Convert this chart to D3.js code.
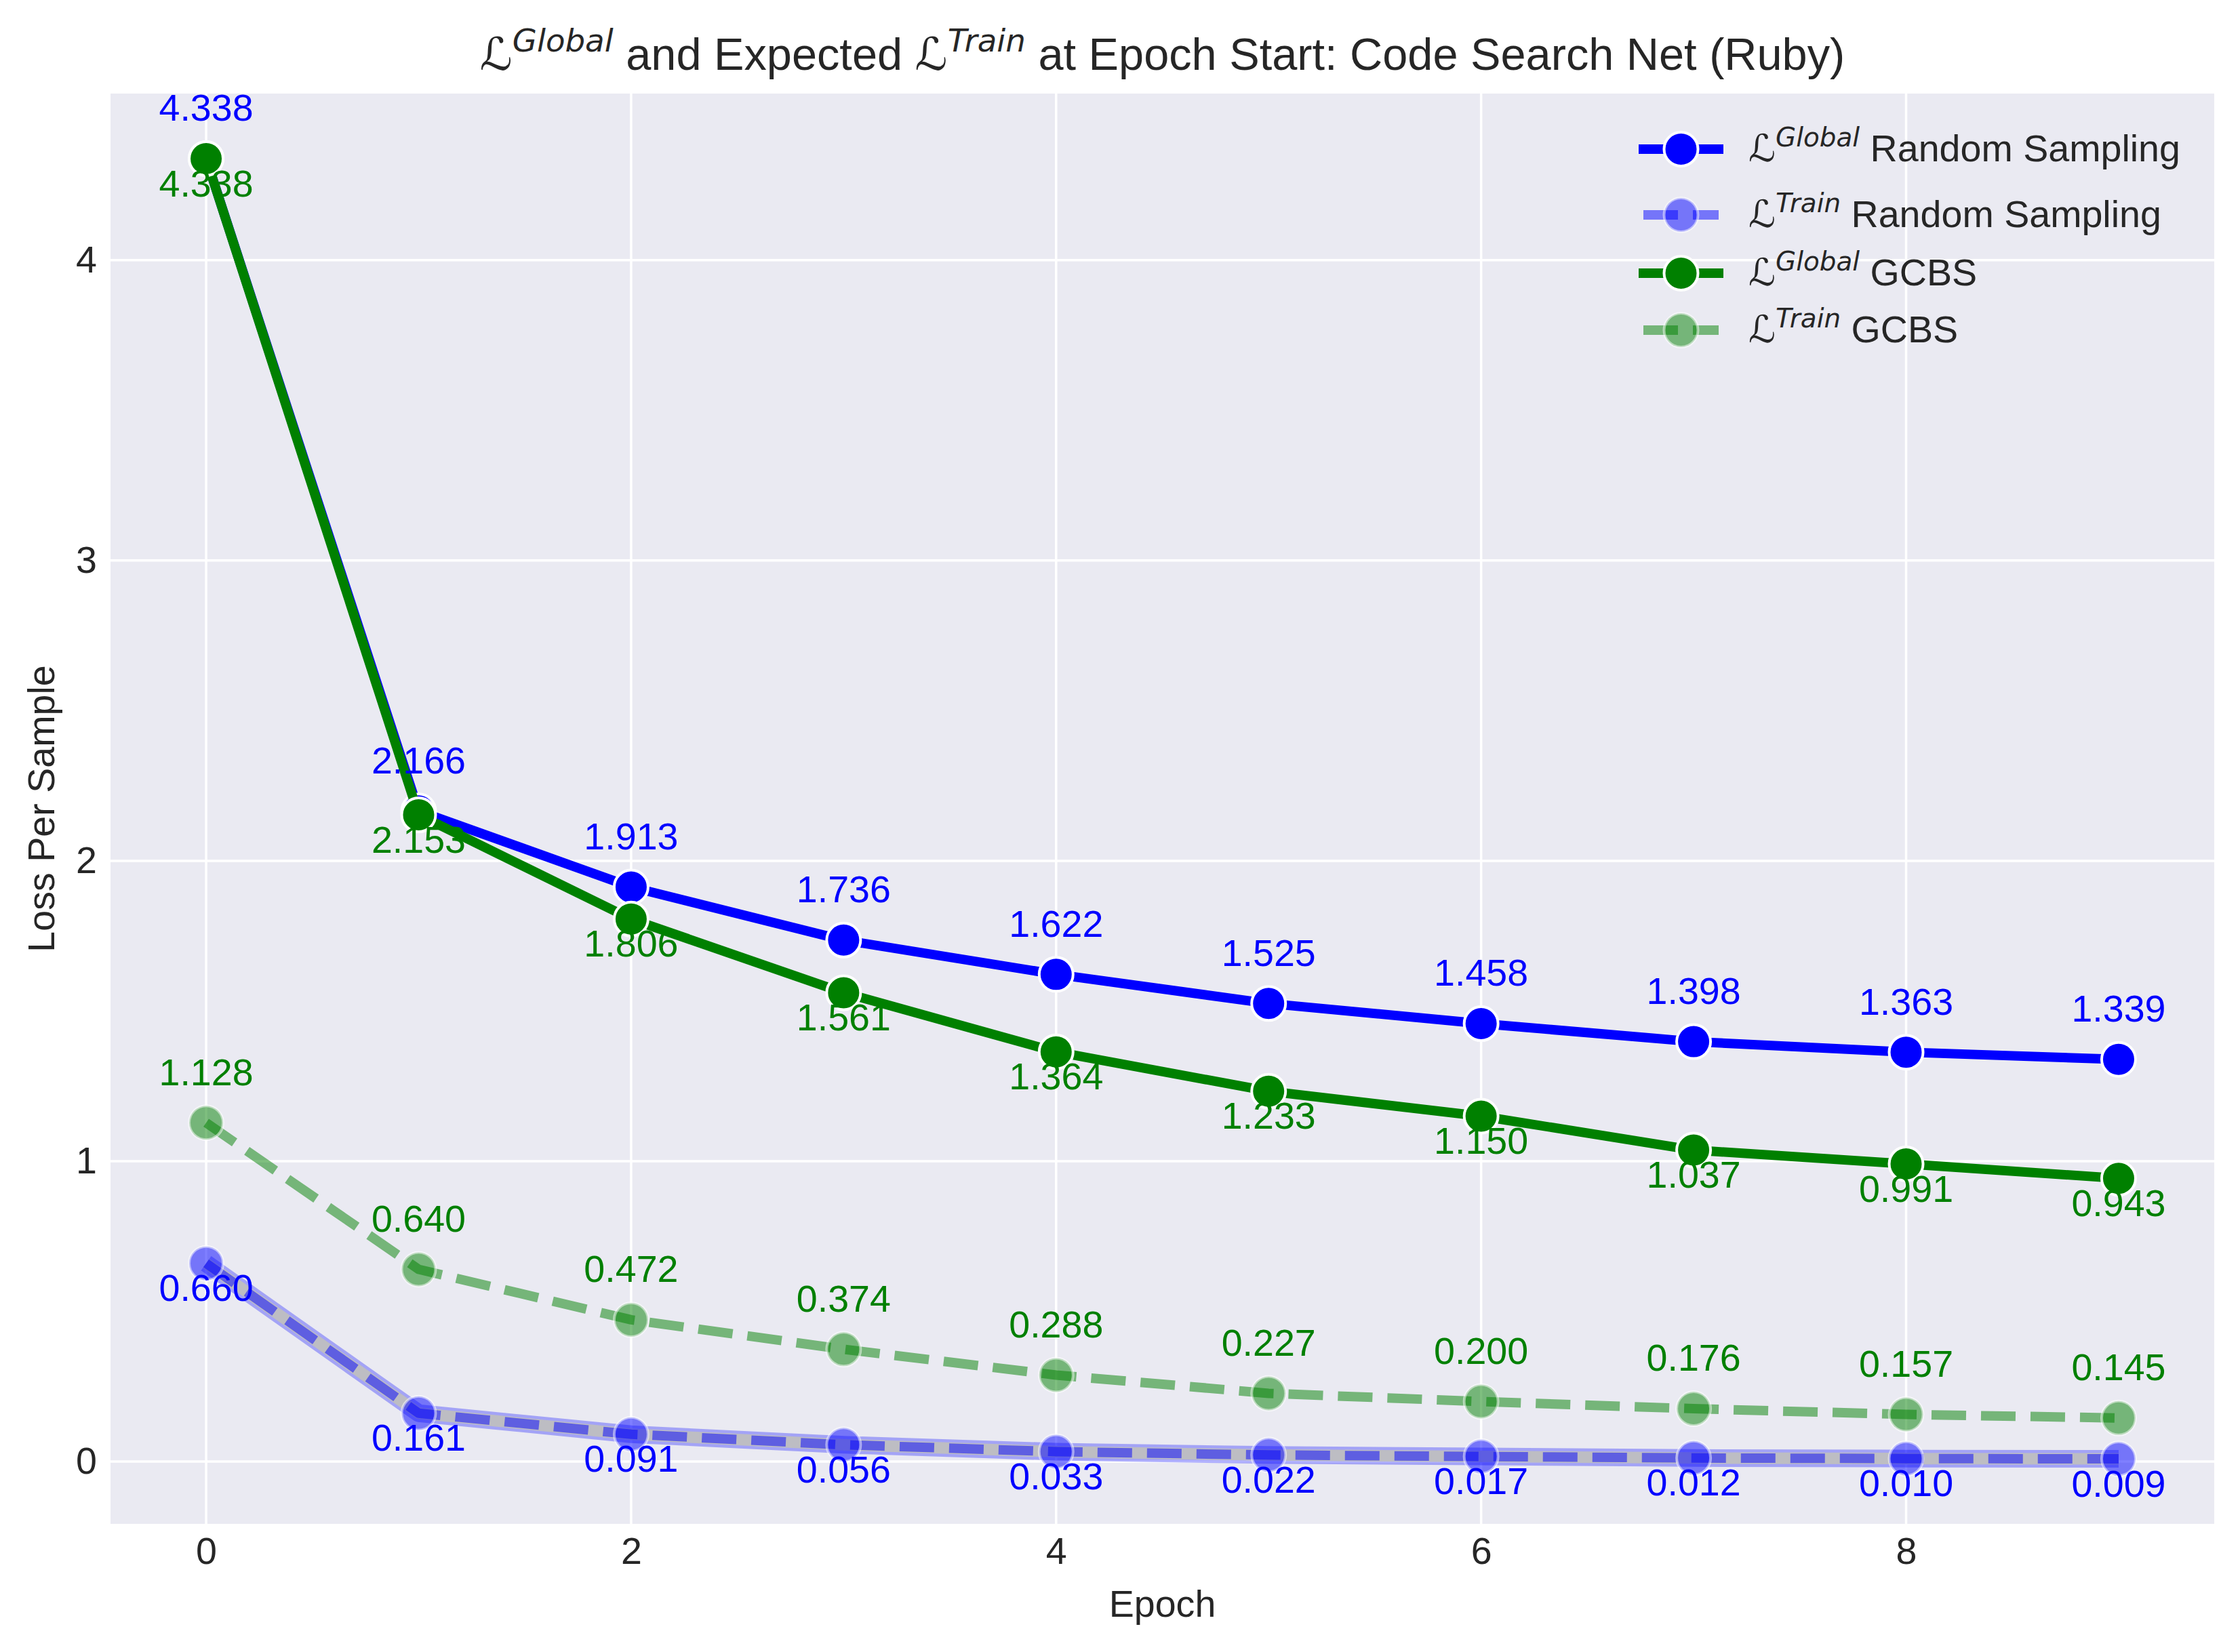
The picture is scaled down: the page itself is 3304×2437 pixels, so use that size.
<!DOCTYPE html>
<html>
<head>
<meta charset="utf-8">
<script src="https://d3js.org/d3.v7.min.js"></script>
<style>
  body { margin: 0; background: #ffffff; }
  text { font-family: "Liberation Sans", Arial, sans-serif; white-space: pre; }
</style>
</head>
<body>
<div id="chart"></div>
<script>
// data
var epochs = [0, 1, 2, 3, 4, 5, 6, 7, 8, 9];
var globalRS = [4.338, 2.166, 1.913, 1.736, 1.622, 1.525, 1.458, 1.398, 1.363, 1.339];
var trainRS = [0.660, 0.161, 0.091, 0.056, 0.033, 0.022, 0.017, 0.012, 0.010, 0.009];
var globalGCBS = [4.338, 2.153, 1.806, 1.561, 1.364, 1.233, 1.150, 1.037, 0.991, 0.943];
var trainGCBS = [1.128, 0.640, 0.472, 0.374, 0.288, 0.227, 0.200, 0.176, 0.157, 0.145];
var xTicks = [0, 2, 4, 6, 8];
var yTicks = [0, 1, 2, 3, 4];

var W = 3304, H = 2437;
var pLeft = 163, pRight = 3266, pTop = 138, pBottom = 2248;
var fs = 55.6;          // 10pt
var ink = '#262626';

var all = globalRS.concat(trainRS, globalGCBS, trainGCBS);
var lo = d3.min(all), hi = d3.max(all), pad = (hi - lo) * 0.05;

var x = d3.scaleLinear().domain([-0.45, 9.45]).range([pLeft, pRight]);
var y = d3.scaleLinear().domain([lo - pad, hi + pad]).range([pBottom, pTop]);

var svg = d3.select('#chart').append('svg').attr('width', W).attr('height', H);
svg.append('rect').attr('width', W).attr('height', H).attr('fill', '#ffffff');
svg.append('rect').attr('x', pLeft).attr('y', pTop)
  .attr('width', pRight - pLeft).attr('height', pBottom - pTop).attr('fill', '#eaeaf2');

// grid
svg.append('g').selectAll('line').data(xTicks).enter().append('line')
  .attr('x1', function(d){ return x(d); }).attr('x2', function(d){ return x(d); })
  .attr('y1', pTop).attr('y2', pBottom)
  .attr('stroke', '#ffffff').attr('stroke-width', 3.5);
svg.append('g').selectAll('line').data(yTicks).enter().append('line')
  .attr('y1', function(d){ return y(d); }).attr('y2', function(d){ return y(d); })
  .attr('x1', pLeft).attr('x2', pRight)
  .attr('stroke', '#ffffff').attr('stroke-width', 3.5);

// axes
var xAxis = svg.append('g').attr('transform', 'translate(0,' + pBottom + ')')
  .call(d3.axisBottom(x).tickValues(xTicks).tickSize(0).tickPadding(20).tickFormat(d3.format('d')));
var yAxis = svg.append('g').attr('transform', 'translate(' + pLeft + ',0)')
  .call(d3.axisLeft(y).tickValues(yTicks).tickSize(0).tickPadding(20).tickFormat(d3.format('d')));
[xAxis, yAxis].forEach(function(a){
  a.select('.domain').remove();
  a.attr('font-family', '"Liberation Sans", Arial, sans-serif').attr('font-size', fs);
  a.selectAll('text').attr('fill', ink);
});

// series
var series = [
  { vals: globalRS, color: '#0000ff', dash: null, alpha: 1, label: 'up', sup: 'Global', name: ' Random Sampling' },
  { vals: trainRS, color: '#0000ff', dash: '51,22', alpha: 0.5, label: 'down', sup: 'Train', name: ' Random Sampling', halo: true },
  { vals: globalGCBS, color: '#008000', dash: null, alpha: 1, label: 'down', sup: 'Global', name: ' GCBS' },
  { vals: trainGCBS, color: '#008000', dash: '51,22', alpha: 0.5, label: 'up', sup: 'Train', name: ' GCBS' }
];

var line = d3.line()
  .x(function(d, i){ return x(epochs[i]); })
  .y(function(d){ return y(d); });

var lw = 14, mr = 25;

series.forEach(function(s){
  var g = svg.append('g');
  if (s.halo) {
    g.append('path').attr('d', line(s.vals)).attr('fill', 'none')
      .attr('stroke', s.color).attr('stroke-opacity', 0.3).attr('stroke-width', 26)
      .attr('stroke-linejoin', 'round');
    g.append('path').attr('d', line(s.vals)).attr('fill', 'none')
      .attr('stroke', '#bdbdc3').attr('stroke-width', 17)
      .attr('stroke-linejoin', 'round');
  }
  var p = g.append('path').attr('d', line(s.vals)).attr('fill', 'none')
    .attr('stroke', s.color).attr('stroke-opacity', s.alpha).attr('stroke-width', lw)
    .attr('stroke-linejoin', 'round');
  if (s.dash) p.attr('stroke-dasharray', s.dash).attr('stroke-linecap', 'butt');
  else p.attr('stroke-linecap', 'square');
  g.selectAll('circle').data(s.vals).enter().append('circle')
    .attr('cx', function(d, i){ return x(epochs[i]); })
    .attr('cy', function(d){ return y(d); })
    .attr('r', mr)
    .attr('fill', s.color).attr('fill-opacity', s.alpha)
    .attr('stroke', '#ffffff').attr('stroke-opacity', s.alpha).attr('stroke-width', 4);
});

// value labels
series.forEach(function(s){
  svg.append('g').selectAll('text').data(s.vals).enter().append('text')
    .attr('x', function(d, i){ return x(epochs[i]); })
    .attr('y', function(d){ return s.label === 'up' ? y(d) - fs : y(d) + fs; })
    .attr('text-anchor', 'middle').attr('font-size', fs).attr('fill', s.color)
    .text(function(d){ return d.toFixed(3); });
});

// helper for L^{sup} text
function mathText(t, sup, rest, size) {
  t.append('tspan').attr('font-family', '"DejaVu Sans"').text('\u2112');
  t.append('tspan').attr('font-family', '"DejaVu Sans"').attr('font-style', 'italic')
    .attr('font-size', size * 0.7).attr('dy', -0.4 * size).text(sup);
  t.append('tspan').attr('dy', 0.4 * size).text(rest);
}

// title
var tfs = 66.7;
var title = svg.append('text').attr('x', (pLeft + pRight) / 2).attr('y', 103)
  .attr('text-anchor', 'middle').attr('font-size', tfs).attr('fill', ink);
mathText(title, 'Global', ' and Expected ', tfs);
mathText(title, 'Train', ' at Epoch Start: Code Search Net (Ruby)', tfs);

// axis labels
svg.append('text').attr('x', (pLeft + pRight) / 2).attr('y', 2385)
  .attr('text-anchor', 'middle').attr('font-size', fs).attr('fill', ink).text('Epoch');
svg.append('text').attr('transform', 'translate(80,' + ((pTop + pBottom) / 2) + ') rotate(-90)')
  .attr('text-anchor', 'middle').attr('font-size', fs).attr('fill', ink).text('Loss Per Sample');

// legend
var rowsY = [220, 317, 403, 487];
var hx0 = 2424, hx1 = 2535, hxm = (hx0 + hx1) / 2;
series.forEach(function(s, i){
  var g = svg.append('g').attr('transform', 'translate(0,' + rowsY[i] + ')');
  var p = g.append('line').attr('x1', hx0).attr('x2', hx1).attr('y1', 0).attr('y2', 0)
    .attr('stroke', s.color).attr('stroke-opacity', s.alpha).attr('stroke-width', lw);
  if (s.dash) p.attr('stroke-dasharray', s.dash).attr('stroke-linecap', 'butt');
  else p.attr('stroke-linecap', 'square');
  g.append('circle').attr('cx', hxm).attr('cy', 0).attr('r', mr)
    .attr('fill', s.color).attr('fill-opacity', s.alpha)
    .attr('stroke', '#ffffff').attr('stroke-opacity', s.alpha).attr('stroke-width', 4);
  var t = g.append('text').attr('x', 2579).attr('y', 18).attr('font-size', fs).attr('fill', ink);
  mathText(t, s.sup, s.name, fs);
});
</script>
</body>
</html>
